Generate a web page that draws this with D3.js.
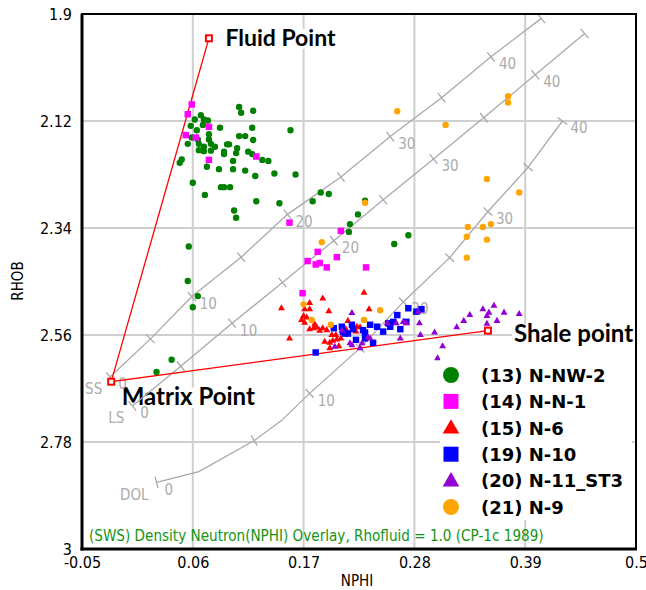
<!DOCTYPE html>
<html>
<head>
<meta charset="utf-8">
<script src="https://cdn.jsdelivr.net/npm/d3@7"></script>
<style>
  html, body { margin: 0; padding: 0; background: #fff; }
  svg { display: block; }
</style>
</head>
<body>
<svg id="chart" width="646" height="590"></svg>
<script>
// ---- axes ----
const xTickValues = [-0.05, 0.06, 0.17, 0.28, 0.39, 0.5];
const xTickLabels = ["-0.05", "0.06", "0.17", "0.28", "0.39", "0.5"];
const yTickValues = [1.9, 2.12, 2.34, 2.56, 2.78, 3];
const yTickLabels = ["1.9", "2.12", "2.34", "2.56", "2.78", "3"];

// ---- well data: [NPHI, RHOB] ----
const nnw2 = [
  [0.106,2.091],[0.108,2.103],[0.120,2.099],[0.062,2.117],[0.068,2.108],[0.071,2.117],[0.075,2.119],
  [0.058,2.130],[0.064,2.139],[0.070,2.128],[0.087,2.134],[0.119,2.134],[0.157,2.139],[0.076,2.147],
  [0.059,2.154],[0.065,2.158],[0.106,2.151],[0.112,2.151],[0.076,2.158],[0.120,2.159],[0.055,2.167],
  [0.066,2.167],[0.071,2.173],[0.066,2.180],[0.078,2.167],[0.082,2.173],[0.094,2.168],[0.096,2.168],
  [0.071,2.182],[0.078,2.181],[0.091,2.183],[0.104,2.176],[0.103,2.186],[0.115,2.183],[0.119,2.188],
  [0.091,2.188],[0.100,2.202],[0.129,2.200],[0.135,2.202],[0.049,2.199],[0.047,2.206],[0.074,2.214],
  [0.086,2.219],[0.100,2.219],[0.112,2.222],[0.122,2.233],[0.141,2.228],[0.162,2.230],[0.060,2.247],
  [0.088,2.256],[0.091,2.256],[0.097,2.256],[0.072,2.272],[0.123,2.285],[0.146,2.289],[0.101,2.304],
  [0.103,2.319],[0.056,2.378],[0.055,2.449],[0.065,2.480],[0.060,2.503],[0.039,2.611],[0.024,2.636],
  [0.179,2.285],[0.187,2.267],[0.195,2.270],[0.231,2.284],[0.224,2.312],[0.216,2.332],[0.215,2.348],
  [0.260,2.373],[0.274,2.355]
];
const nn1 = [
  [0.059,2.086],[0.055,2.106],[0.076,2.132],[0.053,2.149],[0.063,2.154],[0.123,2.193],[0.076,2.200],
  [0.156,2.329],[0.207,2.346],[0.184,2.389],[0.174,2.408],[0.182,2.415],[0.186,2.412],[0.193,2.421],
  [0.203,2.400],[0.232,2.421],[0.169,2.474]
];
const n6 = [
  [0.148,2.505],[0.189,2.485],[0.230,2.473],[0.176,2.494],[0.171,2.507],[0.176,2.507],[0.195,2.511],
  [0.235,2.507],[0.170,2.521],[0.173,2.524],[0.214,2.531],[0.171,2.535],[0.180,2.546],[0.183,2.544],
  [0.186,2.551],[0.176,2.548],[0.189,2.546],[0.193,2.550],[0.226,2.544],[0.156,2.567],[0.198,2.560],
  [0.202,2.560],[0.191,2.574],[0.196,2.576],[0.199,2.572],[0.203,2.569],[0.207,2.567],[0.196,2.587],
  [0.205,2.583],[0.222,2.553],[0.223,2.543],[0.168,2.529],[0.181,2.538],[0.212,2.548]
];
const n10 = [
  [0.182,2.596],[0.200,2.546],[0.208,2.543],[0.218,2.539],[0.219,2.548],[0.214,2.557],[0.209,2.553],
  [0.222,2.570],[0.231,2.555],[0.236,2.539],[0.243,2.543],[0.239,2.576],[0.231,2.567],[0.249,2.553],
  [0.256,2.543],[0.259,2.533],[0.263,2.519],[0.266,2.548],[0.272,2.533],[0.274,2.505],[0.282,2.512],
  [0.287,2.507],[0.254,2.536],[0.229,2.550],[0.211,2.557]
];
const n11st3 = [
  [0.348,2.507],[0.359,2.500],[0.354,2.514],[0.352,2.521],[0.369,2.514],[0.384,2.517],[0.335,2.519],
  [0.329,2.531],[0.362,2.531],[0.352,2.537],[0.322,2.544],[0.300,2.555],[0.286,2.560],[0.285,2.536],
  [0.308,2.583],[0.303,2.608],[0.218,2.515],[0.266,2.567],[0.253,2.536],[0.262,2.536],[0.272,2.536],
  [0.236,2.567],[0.216,2.577],[0.228,2.577],[0.208,2.551],[0.218,2.581],[0.201,2.584],[0.234,2.565],
  [0.226,2.587],[0.269,2.533],[0.284,2.512]
];
const n9 = [
  [0.263,2.100],[0.311,2.128],[0.373,2.069],[0.373,2.082],[0.352,2.239],[0.384,2.267],[0.333,2.338],
  [0.348,2.338],[0.356,2.332],[0.332,2.358],[0.352,2.364],[0.332,2.401],[0.231,2.288],[0.188,2.369],
  [0.170,2.497],[0.178,2.529],[0.197,2.539],[0.230,2.529],[0.246,2.509]
];

const seriesNames = ["(13) N-NW-2", "(14) N-N-1", "(15) N-6", "(19) N-10", "(20) N-11_ST3", "(21) N-9"];
const seriesData = [nnw2, nn1, n6, n10, n11st3, n9];
const seriesColors = ["#008000", "#ff00ff", "#ff0000", "#0000ff", "#9400d3", "#ffa500"];
const seriesShapes = ["circle", "square", "triangle", "square", "triangle", "circle"];

// ---- CP-1c porosity lines: [porosity (p.u.) or null for a bend, NPHI, RHOB] ----
const ssCurve = [
  [0,-0.022,2.646],[5,0.018,2.568],[10,0.059,2.481],[15,0.108,2.400],[20,0.154,2.312],
  [25,0.207,2.235],[30,0.256,2.152],[35,0.307,2.072],[40,0.356,1.988],[45,0.406,1.909]
];
const lsCurve = [
  [0,0.000,2.706],[5,0.048,2.624],[10,0.099,2.536],[15,0.149,2.452],[20,0.200,2.366],
  [25,0.249,2.282],[30,0.299,2.198],[35,0.349,2.113],[40,0.400,2.025],[45,0.449,1.940]
];
const dolCurve = [
  [0,0.024,2.863],[null,0.066,2.841],[5,0.121,2.777],[null,0.148,2.736],[10,0.176,2.680],
  [15,0.226,2.587],[20,0.269,2.492],[25,0.315,2.401],[30,0.353,2.306],[35,0.393,2.215],[40,0.427,2.120]
];
const curveNames = ["SS", "LS", "DOL"];
const curveData = [ssCurve, lsCurve, dolCurve];

// ---- lithology end points [NPHI, RHOB] ----
const fluidPoint = [0.076, 1.950];
const matrixPoint = [-0.021, 2.656];
const shalePoint = [0.353, 2.551];

const footnote = "(SWS) Density Neutron(NPHI) Overlay, Rhofluid = 1.0 (CP-1c 1989)";

// ---- layout ----
const W = 646, H = 590;
const plot = { left: 82, top: 14, right: 636, bottom: 549 };
const sansC = "'DejaVu Sans Condensed','DejaVu Sans',sans-serif";
const bold = "'DejaVu Sans',sans-serif";
const labelFont = "Lato,'Open Sans',sans-serif";

const x = d3.scaleLinear().domain([-0.05, 0.5]).range([plot.left, plot.right]);
const y = d3.scaleLinear().domain([1.9, 3]).range([plot.top, plot.bottom]);

const svg = d3.select("#chart");

// grid
const grid = svg.append("g").attr("stroke", "#cfcfcf").attr("stroke-width", 2);
grid.selectAll("line.gx").data(xTickValues.slice(1, -1)).join("line")
  .attr("x1", d => x(d)).attr("x2", d => x(d))
  .attr("y1", plot.top).attr("y2", plot.bottom);
grid.selectAll("line.gy").data(yTickValues.slice(1, -1)).join("line")
  .attr("y1", d => y(d)).attr("y2", d => y(d))
  .attr("x1", plot.left).attr("x2", plot.right);

// annotations with white backing (drawn under the porosity lines' labels)
const annG = svg.append("g");
function annotate(text, p, dx, dy, size) {
  const g = annG.append("g");
  const bg = g.append("rect").attr("fill", "#fff");
  const t = g.append("text").attr("x", x(p[0]) + dx).attr("y", y(p[1]) + dy)
    .attr("font-family", labelFont).attr("font-weight", "bold")
    .attr("font-size", size).attr("fill", "#000").text(text);
  const bb = t.node().getBBox();
  const base = y(p[1]) + dy;
  bg.attr("x", bb.x - 2).attr("y", base - size * 0.74).attr("width", bb.width + 4).attr("height", size * 0.74 + 3);
  return g;
}

// porosity lines
const curveG = svg.append("g");
const lineGen = d3.line().x(d => x(d[1])).y(d => y(d[2]));
curveData.forEach((curve, ci) => {
  curveG.append("path").attr("d", lineGen(curve))
    .attr("fill", "none").attr("stroke", "#a9a9a9").attr("stroke-width", 1.3);
  curve.forEach((pt, i) => {
    if (pt[0] === null) return;
    const a = curve[Math.max(0, i - 1)], b = curve[Math.min(curve.length - 1, i + 1)];
    const dx = x(b[1]) - x(a[1]), dy = y(b[2]) - y(a[2]);
    const len = Math.hypot(dx, dy);
    const nx = -dy / len, ny = dx / len;
    const px = x(pt[1]), py = y(pt[2]);
    curveG.append("line")
      .attr("x1", px - nx * 6).attr("y1", py - ny * 6)
      .attr("x2", px + nx * 6).attr("y2", py + ny * 6)
      .attr("stroke", "#a9a9a9").attr("stroke-width", 1.3);
    if (pt[0] % 10 === 0) {
      curveG.append("text").attr("x", px + 8).attr("y", py + 7).attr("dy", "0.35em")
        .attr("font-family", sansC).attr("font-stretch", "condensed")
        .attr("font-size", 15).attr("fill", "#ababab").text(pt[0]);
    }
  });
  const p0 = curve[0];
  curveG.append("text").attr("x", x(p0[1]) - 8).attr("y", y(p0[2]) + 12).attr("dy", "0.35em")
    .attr("text-anchor", "end")
    .attr("font-family", sansC).attr("font-stretch", "condensed")
    .attr("font-size", 15).attr("fill", "#ababab").text(curveNames[ci]);
});

// fluid - matrix - shale triangle
svg.append("path")
  .attr("d", d3.line().x(d => x(d[0])).y(d => y(d[1]))([fluidPoint, matrixPoint, shalePoint]))
  .attr("fill", "none").attr("stroke", "#ff0000").attr("stroke-width", 1.3);

// data points
const symbolType = { circle: d3.symbolCircle, square: d3.symbolSquare, triangle: d3.symbolTriangle };
const pointSize = { circle: 32, square: 42, triangle: 21 };
seriesData.forEach((data, si) => {
  const shape = seriesShapes[si];
  svg.append("g").selectAll("path").data(data).join("path")
    .attr("transform", d => `translate(${x(d[0])},${y(d[1])})`)
    .attr("d", d3.symbol().type(symbolType[shape]).size(pointSize[shape]))
    .attr("fill", seriesColors[si]);
});

// end point markers
[fluidPoint, matrixPoint, shalePoint].forEach(p => {
  svg.append("rect").attr("x", x(p[0]) - 3).attr("y", y(p[1]) - 3)
    .attr("width", 6).attr("height", 6)
    .attr("fill", "#fff").attr("stroke", "#ff0000").attr("stroke-width", 2);
});

// point labels
annotate("Fluid Point", fluidPoint, 16.5, 7.5, 23);
annotate("Matrix Point", matrixPoint, 10.5, 23.5, 24);
const shaleLbl = annotate("Shale point", shalePoint, 26, 11, 24);
shaleLbl.select("rect").attr("height", 30);

// legend
const legend = svg.append("g");
legend.append("rect").attr("x", 440).attr("y", 352).attr("width", 192).attr("height", 168).attr("fill", "#fff");
const legendSize = { circle: 200, square: 225, triangle: 120 };
seriesNames.forEach((name, i) => {
  const cy = 375 + i * 26.4;
  legend.append("path").attr("transform", `translate(451,${cy + (seriesShapes[i] === "triangle" ? 1 : 0)})`)
    .attr("d", d3.symbol().type(symbolType[seriesShapes[i]]).size(legendSize[seriesShapes[i]]))
    .attr("fill", seriesColors[i]);
  legend.append("text").attr("x", 481).attr("y", cy + 6.8)
    .attr("font-family", bold).attr("font-weight", "bold").attr("font-size", 18)
    .attr("fill", "#000").text(name);
});

// footnote
svg.append("text").attr("x", 89).attr("y", 541)
  .attr("font-family", sansC).attr("font-stretch", "condensed").attr("font-size", 15.1)
  .attr("fill", "#149414").text(footnote);

// axes
const xAxis = d3.axisBottom(x).tickValues(xTickValues).tickFormat((d, i) => xTickLabels[i])
  .tickSize(0).tickPadding(8);
const yAxis = d3.axisLeft(y).tickValues(yTickValues).tickFormat((d, i) => yTickLabels[i])
  .tickSize(0).tickPadding(10);
const gx = svg.append("g").attr("transform", `translate(0,${plot.bottom})`).call(xAxis);
const gy = svg.append("g").attr("transform", `translate(${plot.left},0)`).call(yAxis);
[gx, gy].forEach(g => {
  g.select(".domain").remove();
  g.selectAll("text").attr("font-family", sansC).attr("font-stretch", "condensed")
    .attr("font-size", 16).attr("fill", "#000");
});

// frame
svg.append("rect").attr("x", plot.left).attr("y", plot.top)
  .attr("width", plot.right - plot.left).attr("height", plot.bottom - plot.top)
  .attr("fill", "none").attr("stroke", "#000").attr("stroke-width", 2);
svg.append("line").attr("x1", plot.left).attr("x2", plot.left).attr("y1", plot.top).attr("y2", plot.bottom + 1.5)
  .attr("stroke", "#000").attr("stroke-width", 3);
svg.append("line").attr("x1", plot.left - 1.5).attr("x2", plot.right + 1).attr("y1", plot.bottom).attr("y2", plot.bottom)
  .attr("stroke", "#000").attr("stroke-width", 3);

// axis titles
svg.append("text").attr("transform", "translate(23,281) rotate(-90)").attr("text-anchor", "middle")
  .attr("font-family", sansC).attr("font-stretch", "condensed").attr("font-size", 15)
  .attr("fill", "#000").text("RHOB");
svg.append("text").attr("x", 357).attr("y", 586).attr("text-anchor", "middle")
  .attr("font-family", sansC).attr("font-stretch", "condensed").attr("font-size", 15)
  .attr("fill", "#000").text("NPHI");
</script>
</body>
</html>
